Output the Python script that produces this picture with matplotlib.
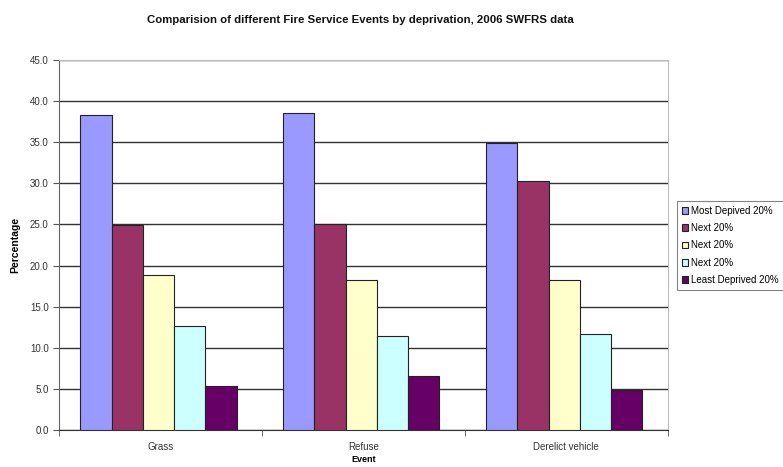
import matplotlib
matplotlib.use("Agg")
import matplotlib.pyplot as plt
import numpy as np
from matplotlib.ticker import FixedLocator, FormatStrFormatter

plt.rcParams['font.family'] = ['Liberation Sans', 'DejaVu Sans']

categories = ["Grass", "Refuse", "Derelict vehicle"]
series_names = ["Most Depived 20%", "Next 20%", "Next 20%", "Next 20%", "Least Deprived 20%"]
most_deprived = [38.3, 38.5, 34.9]
next1 = [24.9, 25.1, 30.3]
next2 = [18.8, 18.2, 18.2]
next3 = [12.7, 11.4, 11.7]
least_deprived = [5.3, 6.6, 4.9]
series = [most_deprived, next1, next2, next3, least_deprived]
colors = ["#9999FF", "#993366", "#FFFFCC", "#CCFFFF", "#660066"]

fig = plt.figure(figsize=(7.83, 4.67), dpi=100)
ax = fig.add_axes([59/783, 37/467, (667.7-59)/783, (430-60)/467])

x = np.arange(len(categories))
bw = 0.154
for i, (vals, c, name) in enumerate(zip(series, colors, series_names)):
    ax.bar(x + (i - 2) * bw - 0.01, vals, width=bw, color=c, edgecolor="#222222",
           linewidth=0.8, label=name, zorder=3)

ax.set_xlim(-0.5, len(categories) - 0.5)
ax.set_ylim(0, 45)
ax.set_yticks(np.arange(0, 45.1, 5))
ax.yaxis.set_major_formatter(FormatStrFormatter('%.1f'))
ax.yaxis.grid(True, color="#333333", linewidth=1.0, zorder=0)
ax.set_xticks(x)
ax.set_xticklabels(categories, fontsize=7)
ax.xaxis.set_minor_locator(FixedLocator([-0.5, 0.5, 1.5, 2.5]))
ax.tick_params(axis='x', which='major', length=0, pad=9, colors="#333333")
ax.tick_params(axis='x', which='minor', length=4, color="#555555", direction='out')
ax.tick_params(axis='y', labelsize=7, length=4, color="#555555", colors="#333333")
for s in ["top", "right"]:
    ax.spines[s].set_color("#bbbbbb")
ax.spines["left"].set_color("#666666")
ax.spines["bottom"].set_color("#333333")

ax.set_ylabel("Percentage", fontsize=7.5, fontweight="bold", labelpad=7)
ax.set_xlabel("Event", fontsize=6.5, fontweight="bold", labelpad=2)

fig.text(360/783, 1 - 20/467, "Comparision of different Fire Service Events by deprivation, 2006 SWFRS data",
         ha="center", va="center", fontsize=8.2, fontweight="bold", color="#111111")

leg = fig.legend(loc="upper left", bbox_to_anchor=(676.7/783, 1 - 201/467),
                 fontsize=7, frameon=True, fancybox=False, edgecolor="#666666",
                 handlelength=0.7, handleheight=0.7, handletextpad=0.3,
                 labelspacing=0.75, borderpad=0.5, borderaxespad=0)
leg.get_frame().set_linewidth(0.8)

fig.savefig("out.png", dpi=100)
